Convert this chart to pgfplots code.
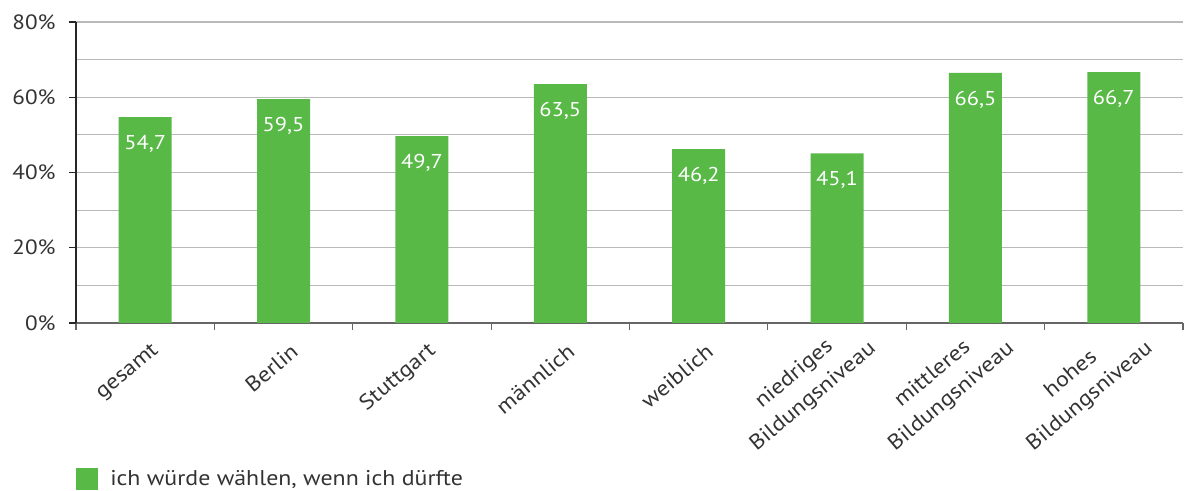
\documentclass[border=0pt]{standalone}
\usepackage{pgfplots}
\pgfplotsset{compat=1.18}
\usepackage{fontspec}
\setmainfont{PT Sans}[FakeStretch=1.12]
\definecolor{bargreen}{HTML}{58B947}
\definecolor{txt}{HTML}{333333}
\begin{document}
\begin{tikzpicture}
\begin{axis}[
  name=ax, at={(0,0)}, anchor=south west,
  scale only axis, width=830.25pt, height=225.75pt,
  xmin=-0.5, xmax=7.5, ymin=0, ymax=80,
  axis lines*=left,
  /pgf/number format/assume math mode=true,
  ybar, bar width=39.75pt, bar shift=0pt,
  xtick={0,...,4},
  xticklabels={gesamt,Berlin,Stuttgart,männlich,weiblich},
  extra x ticks={5,6,7},
  extra x tick labels={niedriges\\Bildungsniveau,mittleres\\Bildungsniveau,hohes\\Bildungsniveau},
  extra x tick style={major tick length=0pt, xticklabel style={xshift=12pt, yshift=-4pt}},
  major x tick style={draw=none},
  minor xtick={-0.5,0.5,...,7.5},
  ytick={0,20,...,80},
  minor ytick={10,30,50,70},
  yticklabel={\pgfmathprintnumber{\tick}\%},
  tick align=outside, major tick length=5.25pt, minor tick length=5.25pt,
  minor y tick style={draw=none},
  minor x tick style={gray!80!black, line width=0.8pt},
  major y tick style={black!85, line width=0.8pt},
  ymajorgrids, yminorgrids,
  major grid style={gray!55, line width=0.9pt},
  minor grid style={gray!55, line width=0.9pt},
  y axis line style={black!85, line width=0.8pt},
  x axis line style={gray!80!black, line width=0.9pt},
  tick label style={text=txt},
  y tick label style={xshift=-6.5pt, font=\fontsize{15.5pt}{18pt}\selectfont},
  x tick label style={rotate=40, anchor=east, align=center, yshift=-16pt, xshift=1pt, font=\fontsize{16pt}{22pt}\selectfont},
  nodes near coords={\pgfmathprintnumber[use comma,fixed,fixed zerofill,precision=1]{\pgfplotspointmeta}},
  every node near coord/.append style={anchor=north, yshift=-10pt, text=white, font=\fontsize{15pt}{17pt}\selectfont},
  legend style={draw=none, fill=none, at={(axis description cs:0,-0.518)}, anchor=west, inner sep=0pt,
    font=\fontsize{16pt}{19pt}\selectfont, text=txt, nodes={inner sep=0pt, inner xsep=4.5pt}},
  legend image code/.code={\fill[#1] (-4.5pt,-8.25pt) rectangle (12pt,8.25pt);},
]
\addplot[fill=bargreen, draw=none] coordinates {(0,54.7) (1,59.5) (2,49.7) (3,63.5) (4,46.2) (5,45.1) (6,66.5) (7,66.7)};
\addlegendentry{\hspace*{4.5pt}ich würde wählen, wenn ich dürfte}
\end{axis}
\pgfresetboundingbox
\path[use as bounding box] (-57pt,-126pt) rectangle (831pt,242.25pt);
\end{tikzpicture}
\end{document}
